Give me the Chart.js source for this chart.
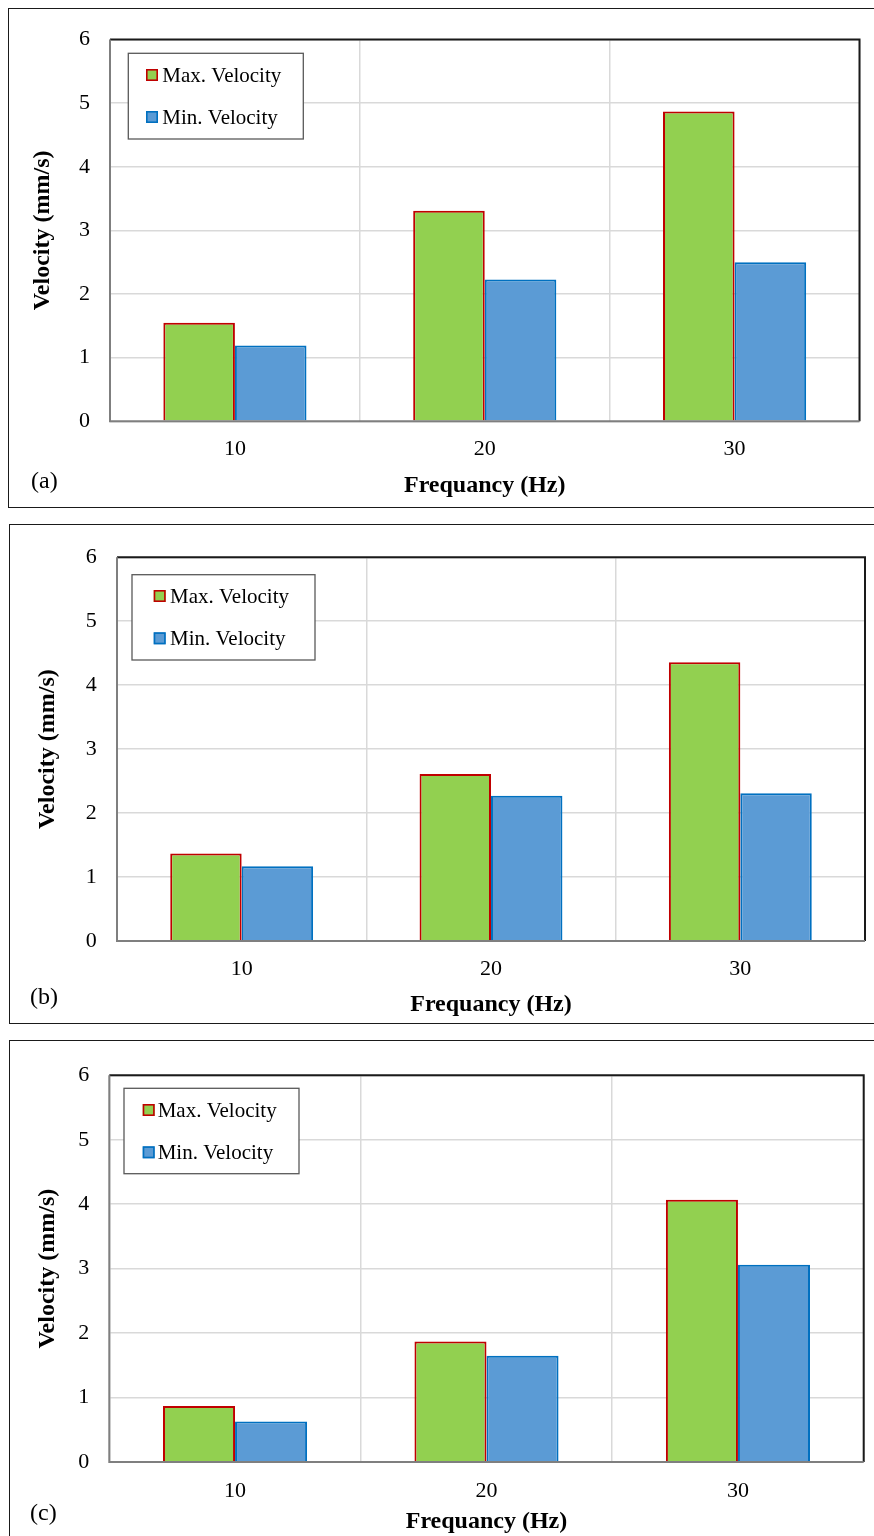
<!DOCTYPE html>
<html>
<head>
<meta charset="utf-8">
<script src="https://cdn.jsdelivr.net/npm/chart.js@4/dist/chart.umd.min.js"></script>
<style>
  html, body { margin: 0; padding: 0; background: #fff; }
  body { width: 874px; height: 1536px; position: relative; overflow: hidden; }
  .panel { position: absolute; left: 0; width: 874px; }
  .frame { position: absolute; border: 1.5px solid #1a1a1a; box-sizing: border-box; }
  canvas { display: block; }
</style>
</head>
<body>
<div class="frame" style="left:8px; top:8px; width:880px; height:499.5px;"></div>
<div class="frame" style="left:9px; top:524px; width:880px; height:499.5px;"></div>
<div class="frame" style="left:9px; top:1040px; width:880px; height:520px;"></div>

<div class="panel" style="top:0px; height:515px;"><canvas id="ca"></canvas></div>
<div class="panel" style="top:515px; height:515px;"><canvas id="cb"></canvas></div>
<div class="panel" style="top:1030px; height:506px;"><canvas id="cc"></canvas></div>

<script>
// ---- data ----
const categories = ['10', '20', '30'];
const seriesLabels = ['Max. Velocity', 'Min. Velocity'];
const maxVelocityA = [1.55, 3.31, 4.87];
const minVelocityA = [1.19, 2.23, 2.50];
const maxVelocityB = [1.37, 2.61, 4.36];
const minVelocityB = [1.17, 2.27, 2.31];
const maxVelocityC = [0.87, 1.87, 4.07];
const minVelocityC = [0.63, 1.65, 3.06];
const yTickValues = [0, 1, 2, 3, 4, 5, 6];
const panelLabels = ['(a)', '(b)', '(c)'];
const xTitle = 'Frequancy (Hz)';
const yTitle = 'Velocity (mm/s)';

const FONT = "'Liberation Serif', 'Times New Roman', serif";

const framePlugin = {
  id: 'plotFrame',
  afterDatasetsDraw(chart) {
    const {ctx, chartArea: a} = chart;
    ctx.save();
    ctx.lineWidth = 2;
    ctx.strokeStyle = '#1a1a1a';
    ctx.beginPath();
    ctx.moveTo(a.left, a.top); ctx.lineTo(a.right, a.top); ctx.lineTo(a.right, a.bottom);
    ctx.stroke();
    ctx.strokeStyle = '#7f7f7f';
    ctx.beginPath();
    ctx.moveTo(a.left, a.top); ctx.lineTo(a.left, a.bottom); ctx.lineTo(a.right, a.bottom);
    ctx.stroke();
    ctx.restore();
  },
  afterDraw(chart, args, opts) {
    const {ctx, chartArea: a} = chart;
    const L = opts.legend;
    ctx.save();
    // legend box
    const bx = a.left + L.dx, by = a.top + L.dy;
    ctx.fillStyle = '#fff';
    ctx.fillRect(bx, by, L.w, L.h);
    ctx.strokeStyle = '#595959';
    ctx.lineWidth = 1.3;
    ctx.strokeRect(bx, by, L.w, L.h);
    ctx.font = '21px ' + FONT;
    ctx.textBaseline = 'middle';
    ctx.textAlign = 'left';
    chart.data.datasets.forEach((ds, i) => {
      const cy = by + L.rows[i];
      ctx.fillStyle = ds.backgroundColor;
      ctx.fillRect(bx + L.sx, cy - 6, 12, 12);
      ctx.strokeStyle = ds.borderColor;
      ctx.lineWidth = 1.6;
      ctx.strokeRect(bx + L.sx + 0.8, cy - 5.2, 10.4, 10.4);
      ctx.fillStyle = '#000';
      ctx.fillText(ds.label, bx + L.tx, cy + 1);
    });
    // panel tag
    ctx.font = '24px ' + FONT;
    ctx.fillStyle = '#000';
    ctx.fillText(opts.tag.text, opts.tag.x, opts.tag.y);
    ctx.restore();
  }
};

function makeChart(id, maxArr, minArr, cfg) {
  new Chart(document.getElementById(id), {
    type: 'bar',
    data: {
      labels: categories,
      datasets: [
        { label: seriesLabels[0], data: maxArr, backgroundColor: '#92d050', borderColor: '#c00000', borderWidth: 2 },
        { label: seriesLabels[1], data: minArr, backgroundColor: '#5b9bd5', borderColor: '#0070c0', borderWidth: 2 }
      ]
    },
    options: {
      responsive: true,
      maintainAspectRatio: false,
      animation: false,
      events: [],
      layout: { padding: { top: cfg.top, right: cfg.right, left: 0, bottom: 0 } },
      datasets: { bar: { categoryPercentage: 0.573, barPercentage: 1.0 } },
      plugins: {
        legend: { display: false },
        tooltip: { enabled: false },
        plotFrame: { legend: cfg.legend, tag: cfg.tag }
      },
      scales: {
        x: {
          grid: { color: '#d9d9d9', lineWidth: 1.5, drawTicks: false, offset: true },
          border: { display: false },
          ticks: { color: '#000', font: { family: FONT, size: 22 }, padding: cfg.xtickPad, maxRotation: 0 },
          title: { display: true, text: xTitle, color: '#000', font: { family: FONT, size: 24, weight: 'bold' }, padding: { top: 0, bottom: cfg.xtitlePad } },
          afterFit(s) { s.height = cfg.xh; }
        },
        y: {
          min: 0, max: 6,
          afterBuildTicks(s) { s.ticks = yTickValues.map(v => ({ value: v })); },
          grid: { color: '#d9d9d9', lineWidth: 1.5, drawTicks: false },
          border: { display: false },
          ticks: { color: '#000', font: { family: FONT, size: 22 }, padding: cfg.ytickPad },
          title: { display: true, text: yTitle, color: '#000', font: { family: FONT, size: 24, weight: 'bold' }, padding: { top: cfg.ytitlePad, bottom: 0 } },
          afterFit(s) { s.width = cfg.yw; }
        }
      }
    },
    plugins: [framePlugin]
  });
}

makeChart('ca', maxVelocityA, minVelocityA, {
  top: 39.5, right: 14.5, yw: 110, xh: 93.7,
  ytitlePad: 28.6, ytickPad: 20, xtickPad: 15, xtitlePad: 14.6,
  legend: { dx: 18.3, dy: 13.8, w: 175, h: 85.7, sx: 17.7, tx: 34, rows: [21.7, 63.7] },
  tag: { text: panelLabels[0], x: 31, y: 482 }
});
makeChart('cb', maxVelocityB, minVelocityB, {
  top: 42.3, right: 9, yw: 117, xh: 89,
  ytitlePad: 33.6, ytickPad: 20.3, xtickPad: 15.2, xtitlePad: 10.6,
  legend: { dx: 15, dy: 17.4, w: 183, h: 85.3, sx: 21.7, tx: 38, rows: [21.3, 63.6] },
  tag: { text: panelLabels[1], x: 30, y: 482.5 }
});
makeChart('cc', maxVelocityC, minVelocityC, {
  top: 45.3, right: 10.3, yw: 109.3, xh: 74,
  ytitlePad: 33.6, ytickPad: 20, xtickPad: 15.8, xtitlePad: 0,
  legend: { dx: 14.7, dy: 13, w: 175, h: 85.4, sx: 18.7, tx: 33.7, rows: [21.7, 64] },
  tag: { text: panelLabels[2], x: 30, y: 483.5 }
});
</script>
</body>
</html>
